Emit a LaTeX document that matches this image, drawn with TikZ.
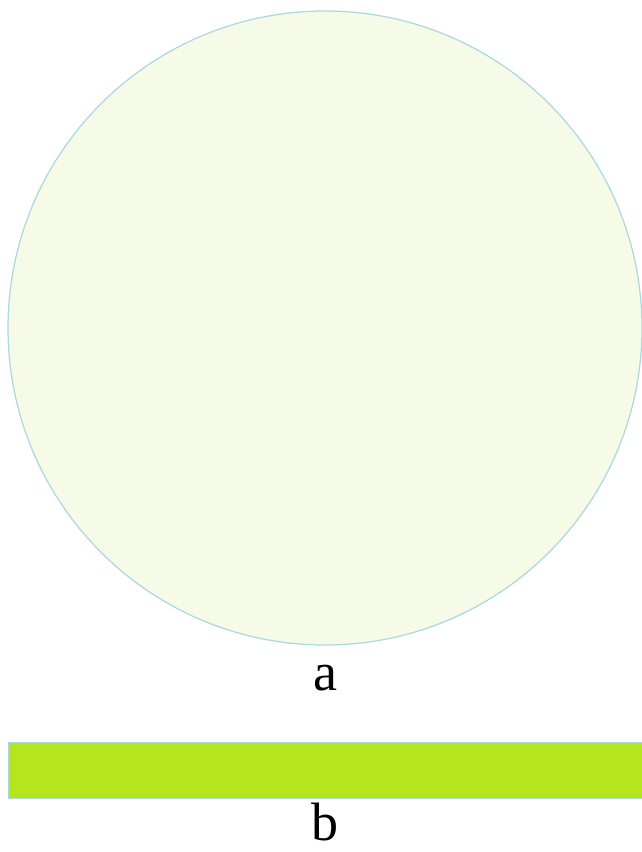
\documentclass[tikz,border=0pt]{standalone}
\usepackage{fontspec}
\setmainfont{Liberation Serif}
\usepackage{tikz}
\definecolor{rimblue}{RGB}{168,216,224}
\definecolor{diskfill}{RGB}{245,251,230}
\definecolor{barfill}{RGB}{181,230,29}

\begin{document}
\begin{tikzpicture}[x=1pt,y=1pt,
  rimline/.style={draw=rimblue,line width=1.2pt},
  lbl/.style={font=\fontsize{54}{60}\selectfont,inner sep=0pt}]
\useasboundingbox (0,0) rectangle (642,-852);
% Disk and its label
\node[rimline,fill=diskfill,circle,minimum size=634pt,inner sep=0pt] (disk) at (325,-328) {};
\node[lbl,anchor=base] (la) at (325,-690) {a};
% Bar and its label
\node[rimline,fill=barfill,rectangle,minimum width=640pt,minimum height=56pt,inner sep=0pt,anchor=north west] (bar) at (8,-742) {};
\node[lbl,anchor=base] (lb) at (325,-840) {b};
\end{tikzpicture}
\end{document}
